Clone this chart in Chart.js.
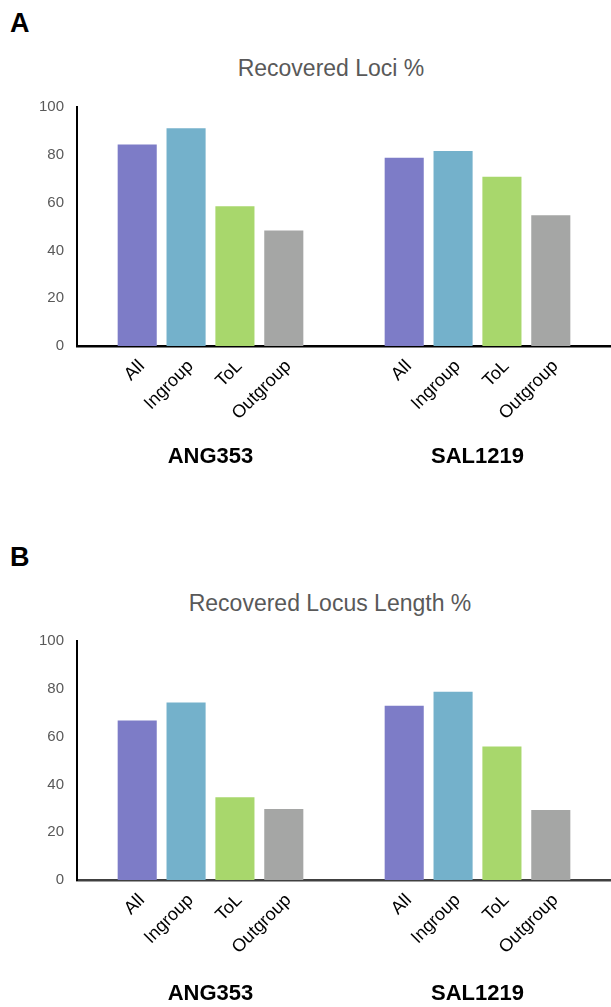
<!DOCTYPE html>
<html>
<head>
<meta charset="utf-8">
<script src="https://cdn.jsdelivr.net/npm/chart.js@4.4.1/dist/chart.umd.min.js"></script>
<style>
  body { margin: 0; background: #fff; font-family: "Liberation Sans", Arial, sans-serif; }
  #page { position: relative; width: 611px; height: 1007px; overflow: hidden; }
  .panel { position: absolute; left: 10px; font-weight: bold; font-size: 27px; color: #000; }
  .title { position: absolute; width: 400px; margin-left: -200px; text-align: center; font-size: 23px; color: #595959; }
  canvas { position: absolute; left: 0; }
</style>
</head>
<body>
<div id="page">
  <div class="panel" style="top:8px">A</div>
  <div class="title" style="left:331px; top:55px">Recovered Loci %</div>
  <canvas id="chartA" width="611" height="387" style="top:85px"></canvas>

  <div class="panel" style="top:542px">B</div>
  <div class="title" style="left:330px; top:590px">Recovered Locus Length %</div>
  <canvas id="chartB" width="611" height="387" style="top:619px"></canvas>
</div>

<script>
const groups = ['ANG353', 'SAL1219'];
const seriesNames = ['All', 'Ingroup', 'ToL', 'Outgroup'];
const seriesColors = ['#7d7cc7', '#74b1cb', '#a8d76c', '#a5a6a5'];
const yTicks = [0, 20, 40, 60, 80, 100];

// Recovered loci %
const lociAll = [84.3, 78.8];
const lociIngroup = [91.1, 81.6];
const lociToL = [58.5, 70.8];
const lociOutgroup = [48.3, 54.7];

// Recovered locus length %
const lengthAll = [66.7, 72.9];
const lengthIngroup = [74.3, 78.8];
const lengthToL = [34.6, 55.9];
const lengthOutgroup = [29.7, 29.3];

const fontFamily = '"Liberation Sans", Arial, sans-serif';

// draws the series name under each bar, turned 45 degrees
const barLabels = {
    id: 'barLabels',
    afterDatasetsDraw(chart) {
        const ctx = chart.ctx;
        const base = chart.scales.y.getPixelForValue(0);
        ctx.save();
        ctx.font = '18px ' + fontFamily;
        ctx.fillStyle = '#000';
        ctx.textAlign = 'right';
        ctx.textBaseline = 'alphabetic';
        chart.data.datasets.forEach((ds, i) => {
            chart.getDatasetMeta(i).data.forEach(bar => {
                ctx.save();
                ctx.translate(bar.x + 8, base + 21);
                ctx.rotate(-Math.PI / 4);
                ctx.fillText(ds.label, 0, 0);
                ctx.restore();
            });
        });
        ctx.restore();
    }
};

function makeChart(id, values, xAxisColor, groupPad) {
    const ctx = document.getElementById(id).getContext('2d');
    return new Chart(ctx, {
        type: 'bar',
        data: {
            labels: groups,
            datasets: seriesNames.map((name, i) => ({
                label: name,
                data: values[i],
                backgroundColor: seriesColors[i],
                borderWidth: 0,
                categoryPercentage: 0.732,
                barPercentage: 0.8
            }))
        },
        options: {
            responsive: false,
            animation: false,
            layout: { padding: { top: 10, right: 0, left: 0, bottom: 0 } },
            plugins: {
                legend: { display: false },
                tooltip: { enabled: false },
                title: { display: false }
            },
            scales: {
                x: {
                    grid: { display: false, drawTicks: false },
                    border: { display: true, color: xAxisColor, width: 2.5 },
                    ticks: {
                        padding: groupPad,
                        maxRotation: 0,
                        autoSkip: false,
                        color: '#000',
                        font: { family: fontFamily, size: 22, weight: 'bold' }
                    },
                    afterFit(scale) {
                        scale.height = 126;
                        scale.paddingLeft = 0;
                        scale.paddingRight = 0;
                    }
                },
                y: {
                    min: yTicks[0],
                    max: yTicks[yTicks.length - 1],
                    grid: { display: false, drawTicks: false },
                    border: { display: true, color: '#000', width: 2 },
                    ticks: {
                        stepSize: yTicks[1] - yTicks[0],
                        padding: 13,
                        color: '#595959',
                        font: { family: fontFamily, size: 15 }
                    },
                    afterFit(scale) { scale.width = 77; }
                }
            }
        },
        plugins: [barLabels]
    });
}

makeChart('chartA', [lociAll, lociIngroup, lociToL, lociOutgroup], '#000', 98);
makeChart('chartB', [lengthAll, lengthIngroup, lengthToL, lengthOutgroup], '#404040', 101);
</script>
</body>
</html>
